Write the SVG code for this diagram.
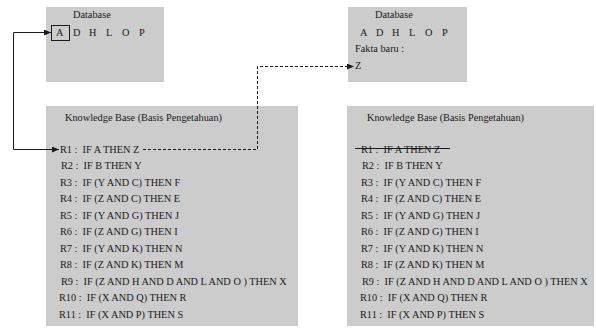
<svg xmlns="http://www.w3.org/2000/svg" width="596" height="331" viewBox="0 0 596 331">
<style>
.box{fill:#cccccc;stroke:none}
text{font-family:"Liberation Serif","Times New Roman",serif;font-size:10.3px;fill:#1a1a1a;white-space:pre}
.ln{fill:none;stroke:#1a1a1a;stroke-width:1}
.dash{fill:none;stroke:#1a1a1a;stroke-width:1;stroke-dasharray:3,2}
</style>
<defs>
<marker id="ah" markerWidth="7" markerHeight="6" refX="7" refY="3" orient="auto-start-reverse" markerUnits="userSpaceOnUse">
<path d="M0,0 L7,3 L0,6 Z" fill="#1a1a1a"/>
</marker>
</defs>
<rect width="596" height="331" fill="#ffffff"/>
<g id="db-left">
<rect class="box" x="46" y="7" width="118" height="75"/>
<text x="73" y="18">Database</text>
<rect x="51.5" y="25.5" width="18" height="15" fill="none" stroke="#1a1a1a" stroke-width="1"/>
<text y="36"><tspan x="56">A</tspan><tspan x="73">D</tspan><tspan x="89">H</tspan><tspan x="106">L</tspan><tspan x="122">O</tspan><tspan x="139">P</tspan></text>
</g>
<g id="db-right">
<rect class="box" x="348" y="7" width="119" height="75"/>
<text x="375" y="18">Database</text>
<text y="36"><tspan x="360">A</tspan><tspan x="376">D</tspan><tspan x="392">H</tspan><tspan x="409">L</tspan><tspan x="425">O</tspan><tspan x="442">P</tspan></text>
<text x="355" y="52">Fakta baru :</text>
<text x="355" y="69">Z</text>
</g>
<g id="kb-left">
<rect class="box" x="46" y="106" width="252" height="220"/>
<text x="65" y="120.5">Knowledge Base (Basis Pengetahuan)</text>
<text x="60" y="152.5">R1 :  IF A THEN Z</text>
<text x="61" y="169">R2 :  IF B THEN Y</text>
<text x="60" y="185.5">R3 :  IF (Y AND C) THEN F</text>
<text x="60" y="202">R4 :  IF (Z AND C) THEN E</text>
<text x="60" y="218.5">R5 :  IF (Y AND G) THEN J</text>
<text x="60" y="235">R6 :  IF (Z AND G) THEN I</text>
<text x="60" y="251.5">R7 :  IF (Y AND K) THEN N</text>
<text x="60" y="268">R8 :  IF (Z AND K) THEN M</text>
<text x="61" y="284.5">R9 :  IF (Z AND H AND D AND L AND O ) THEN X</text>
<text x="59" y="301">R10 :  IF (X AND Q) THEN R</text>
<text x="59" y="317.5">R11 :  IF (X AND P) THEN S</text>
</g>
<g id="kb-right">
<rect class="box" x="347" y="106" width="247" height="220"/>
<text x="367" y="120.5">Knowledge Base (Basis Pengetahuan)</text>
<text x="361" y="152.5">R1 :  IF A THEN Z</text>
<line x1="355" y1="148.5" x2="450" y2="148.5" stroke="#1a1a1a" stroke-width="1"/>
<text x="362" y="169">R2 :  IF B THEN Y</text>
<text x="361" y="185.5">R3 :  IF (Y AND C) THEN F</text>
<text x="361" y="202">R4 :  IF (Z AND C) THEN E</text>
<text x="361" y="218.5">R5 :  IF (Y AND G) THEN J</text>
<text x="361" y="235">R6 :  IF (Z AND G) THEN I</text>
<text x="361" y="251.5">R7 :  IF (Y AND K) THEN N</text>
<text x="361" y="268">R8 :  IF (Z AND K) THEN M</text>
<text x="362" y="284.5">R9 :  IF (Z AND H AND D AND L AND O ) THEN X</text>
<text x="360" y="301">R10 :  IF (X AND Q) THEN R</text>
<text x="360" y="317.5">R11 :  IF (X AND P) THEN S</text>
</g>
<g id="connectors">
<polyline class="ln" points="51,32.5 13.5,32.5 13.5,149.5 59,149.5" marker-start="url(#ah)" marker-end="url(#ah)"/>
<polyline class="dash" points="143,149.5 257.5,149.5 257.5,66.5 354,66.5" marker-end="url(#ah)"/>
</g>
</svg>
